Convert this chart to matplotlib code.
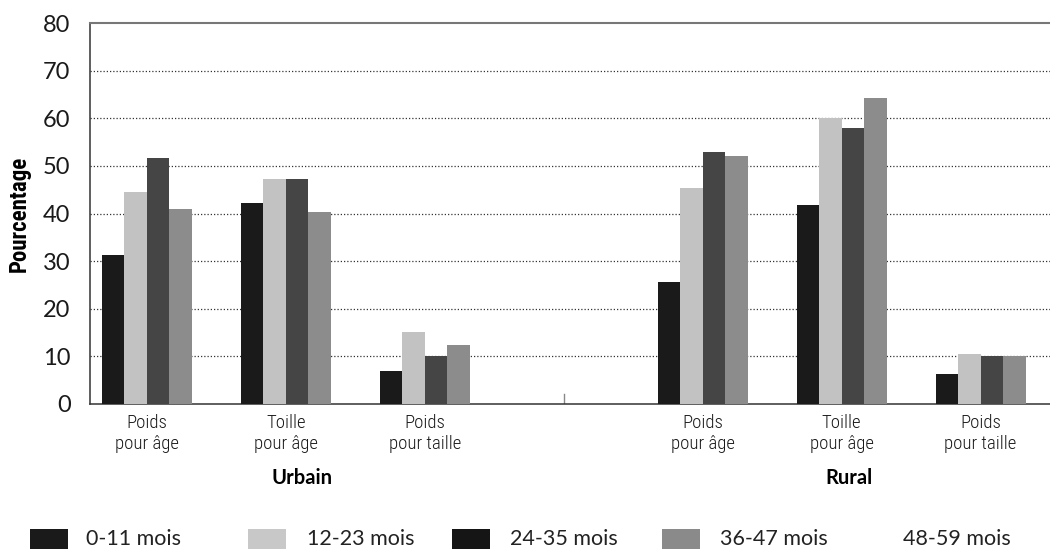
import matplotlib
matplotlib.use("Agg")
import matplotlib.pyplot as plt
from matplotlib.patches import Rectangle
import numpy as np
from matplotlib import font_manager

names = {f.name for f in font_manager.fontManager.ttflist}
def pick(cands):
    for c in cands:
        if c in names:
            return c
    return 'DejaVu Sans'
narrow = pick(['Roboto Condensed', 'Liberation Sans Narrow', 'Open Sans Condensed', 'Roboto'])
light = pick(['Lato', 'Roboto', 'Open Sans'])

categories = ["Poids\npour âge", "Toille\npour âge", "Poids\npour taille",
              "Poids\npour âge", "Toille\npour âge", "Poids\npour taille"]
positions = [0, 1, 2, 4, 5, 6]
series_names = ["0-11 mois", "12-23 mois", "24-35 mois", "36-47 mois", "48-59 mois"]
s_0_11 = [31.3, 42.2, 6.9, 25.6, 41.8, 6.3]
s_12_23 = [44.5, 47.3, 15.1, 45.4, 60.0, 10.5]
s_24_35 = [51.7, 47.3, 10.1, 53.0, 58.0, 10.1]
s_36_47 = [41.0, 40.3, 12.4, 52.0, 64.3, 10.1]
series = [s_0_11, s_12_23, s_24_35, s_36_47]
bar_colors = ["#1a1a1a", "#c2c2c2", "#454545", "#8c8c8c"]
legend_colors = ["#1a1a1a", "#c8c8c8", "#151515", "#8a8a8a", None]
groups = ["Urbain", "Rural"]
yticks = [0, 10, 20, 30, 40, 50, 60, 70, 80]

fig = plt.figure(figsize=(10.5, 5.49), dpi=100)
ax = fig.add_axes([90/1050, 1-404/549, 1-90/1050, (404-23)/549])

w = 0.162
pos = np.array(positions, dtype=float)
for i, (vals, c) in enumerate(zip(series, bar_colors)):
    ax.bar(pos + (i - 1.5) * w, vals, width=w, color=c, edgecolor='none', zorder=3)

ax.set_xlim(-0.41, 6.5)
ax.set_ylim(0, 80)
ax.set_yticks(yticks)
ax.set_yticklabels([str(t) for t in yticks], fontsize=17, color="#1a1a1a", family=light, fontweight='normal')
ax.tick_params(axis='y', length=0, pad=14)
ax.tick_params(axis='x', length=0, pad=7)
ax.set_xticks(positions)
ax.set_xticklabels(categories, fontsize=13.5, family=narrow, color="#1a1a1a", linespacing=1.2, fontweight='light')
for t in yticks[1:-1]:
    ax.axhline(t, color="#333333", lw=0.9, linestyle=(0, (1, 1.6)), zorder=1)
ax.axvline(3, ymin=0, ymax=0.025, color="#888888", lw=1)

ax.spines['right'].set_visible(False)
ax.spines['top'].set_color("#777777")
ax.spines['top'].set_linewidth(1.5)
ax.spines['left'].set_color("#333333")
ax.spines['bottom'].set_color("#333333")
ax.spines['left'].set_linewidth(1.1)
ax.spines['bottom'].set_linewidth(1.1)

ax.set_ylabel("Pourcentage", fontsize=16.5, fontweight='bold', family=narrow)
ax.yaxis.set_label_coords(-0.062, 0.5)

fig.text(302/1050, 1-478/549, groups[0], fontsize=14.5, fontweight='bold', ha='center', va='center', family=light)
fig.text(849/1050, 1-478/549, groups[1], fontsize=14.5, fontweight='bold', ha='center', va='center', family=light)

sw_x = [30, 248, 452, 662]
tx_x = [86, 307, 510, 720, 903]
ly = 539
for i, name in enumerate(series_names):
    c = legend_colors[i]
    if c is not None:
        fig.patches.append(Rectangle((sw_x[i]/1050, 1-(ly+10)/549), 38/1050, 20/549,
                                     transform=fig.transFigure, facecolor=c, edgecolor='none'))
    fig.text(tx_x[i]/1050, 1-ly/549, name, fontsize=15.5, ha='left', va='center',
             family=light, color="#222222", fontweight='normal')

fig.savefig("out.png", dpi=100)
